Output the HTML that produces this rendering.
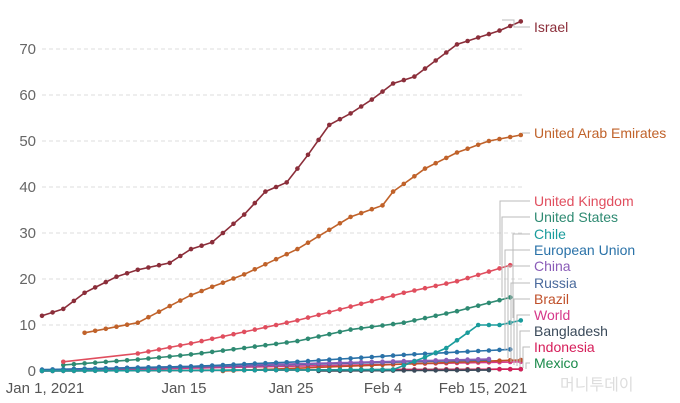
<!DOCTYPE html>
<html><head><meta charset="utf-8"><style>
html,body{margin:0;padding:0;background:#fff;width:680px;height:403px;overflow:hidden}
svg{font-family:"Liberation Sans",sans-serif}
</style></head><body>
<svg id="s" width="680" height="403" viewBox="0 0 680 403">
<g stroke="#ddd" stroke-dasharray="4,3" stroke-width="1">
<line x1="42" x2="522" y1="49" y2="49"/><line x1="42" x2="522" y1="95" y2="95"/>
<line x1="42" x2="522" y1="141" y2="141"/><line x1="42" x2="522" y1="187" y2="187"/>
<line x1="42" x2="522" y1="233" y2="233"/><line x1="42" x2="522" y1="279" y2="279"/>
<line x1="42" x2="522" y1="325" y2="325"/>
</g>
<g fill="#666" font-size="15" text-anchor="end">
<text x="36" y="54">70</text><text x="36" y="100">60</text><text x="36" y="146">50</text>
<text x="36" y="192">40</text><text x="36" y="238">30</text><text x="36" y="284">20</text>
<text x="36" y="330">10</text><text x="36" y="376">0</text>
</g>
<g fill="#555" font-size="15" text-anchor="middle">
<text x="45" y="393">Jan 1, 2021</text><text x="184" y="393">Jan 15</text>
<text x="291" y="393">Jan 25</text><text x="383" y="393">Feb 4</text><text x="483" y="393">Feb 15, 2021</text>
</g>
<g id="ser"></g>
<g stroke="#bbb" fill="none" stroke-width="1">
<polyline points="502,20 514,20 514,27 530,27"/>
<polyline points="522,133 530,133"/>
<polyline points="500,265 500,201 530,201"/><polyline points="502,297 502,217 530,217"/>
<polyline points="513,318 513,234 530,234"/><polyline points="505,350 505,250 530,250"/>
<polyline points="508,358 508,266 530,266"/><polyline points="511,362 511,283 530,283"/>
<polyline points="514,365 514,299 530,299"/><polyline points="517,366 517,315 530,315"/>
<polyline points="520,367 520,331 530,331"/><polyline points="523,368 523,347 530,347"/>
<polyline points="526,369 526,363 530,363"/>
</g>
<g font-size="14">
<text x="534" y="32" fill="#8b2e3a">Israel</text>
<text x="534" y="138" fill="#c0622a">United Arab Emirates</text>
<text x="534" y="206" fill="#e04e5e">United Kingdom</text>
<text x="534" y="222" fill="#2e8a72">United States</text>
<text x="534" y="239" fill="#1a9c9c">Chile</text>
<text x="534" y="255" fill="#2a72a8">European Union</text>
<text x="534" y="271" fill="#8a5cb8">China</text>
<text x="534" y="288" fill="#4a6a9c">Russia</text>
<text x="534" y="304" fill="#c0502a">Brazil</text>
<text x="534" y="320" fill="#d6388a">World</text>
<text x="534" y="336" fill="#3a4a5a">Bangladesh</text>
<text x="534" y="352" fill="#d61e5a">Indonesia</text>
<text x="534" y="368" fill="#1a8a4a">Mexico</text>
</g>
<text x="560" y="390" fill="#ddd" font-size="16" font-family="'Liberation Sans','Noto Sans CJK KR',sans-serif">머니투데이</text>
</svg>
<script>
var X=function(d){return 42+d*10.64},Y=function(v){return 371-4.6*v};
function interp(k){var o=[];for(var i=0;i<k.length-1;i++){var a=k[i],b=k[i+1];var st=a[2]?(b[0]-a[0]):1;for(var d=a[0];d<b[0];d+=st)o.push([d,a[1]+(b[1]-a[1])*(d-a[0])/(b[0]-a[0])]);}o.push(k[k.length-1]);return o}
var S=[
["#1a8a4a",[[0,0.05],[45,0.4]]],
["#d61e5a",[[0,0],[45,0.4]]],
["#3a4a5a",[[26,0],[42,0.2]]],
["#d6388a",[[0,0],[45,2]]],
["#c0502a",[[17,0],[34,1.5],[45,2.4]]],
["#4a6a9c",[[0,0.1],[42,2.4]]],
["#8a5cb8",[[0,0.2],[42,2.6]]],
["#2a72a8",[[0,0.3],[14,1],[24,2],[34,3.5],[44,4.7]]],
["#1a9c9c",[[0,0],[33,0.3],[36,3],[38,5],[41,10],[43,10],[45,11]]],
["#2e8a72",[[2,1.3],[9,2.5],[14,3.6],[19,5],[24,6.5],[29,9],[34,10.5],[39,13],[44,16]]],
["#e04e5e",[[2,2,1],[9,3.8],[14,6],[19,8.5],[24,11],[29,14],[34,17],[39,19.5],[44,23]]],
["#c0622a",[[4,8.3],[9,10.5],[14,16.5],[19,21],[24,26.5],[29,33.5],[32,36],[33,39],[36,44],[39,47.5],[42,50],[45,51.3]]],
["#8b2e3a",[[0,12],[2,13.5],[4,17],[7,20.5],[9,22],[12,23.5],[14,26.5],[16,28],[19,34],[21,39],[23,41],[25,47],[27,53.5],[29,56],[31,59],[33,62.5],[35,64],[37,67.5],[39,71],[41,72.5],[43,74],[45,76]]]
];
var g=document.getElementById('ser'),h='';
S.forEach(function(s){var p=interp(s[1]);h+='<polyline fill="none" stroke="'+s[0]+'" stroke-width="1.6" points="'+p.map(function(q){return X(q[0]).toFixed(1)+','+Y(q[1]).toFixed(1)}).join(' ')+'"/>';p.forEach(function(q){h+='<circle r="2.3" fill="'+s[0]+'" cx="'+X(q[0]).toFixed(1)+'" cy="'+Y(q[1]).toFixed(1)+'"/>'})});
g.innerHTML=h;
</script>
</body></html>
